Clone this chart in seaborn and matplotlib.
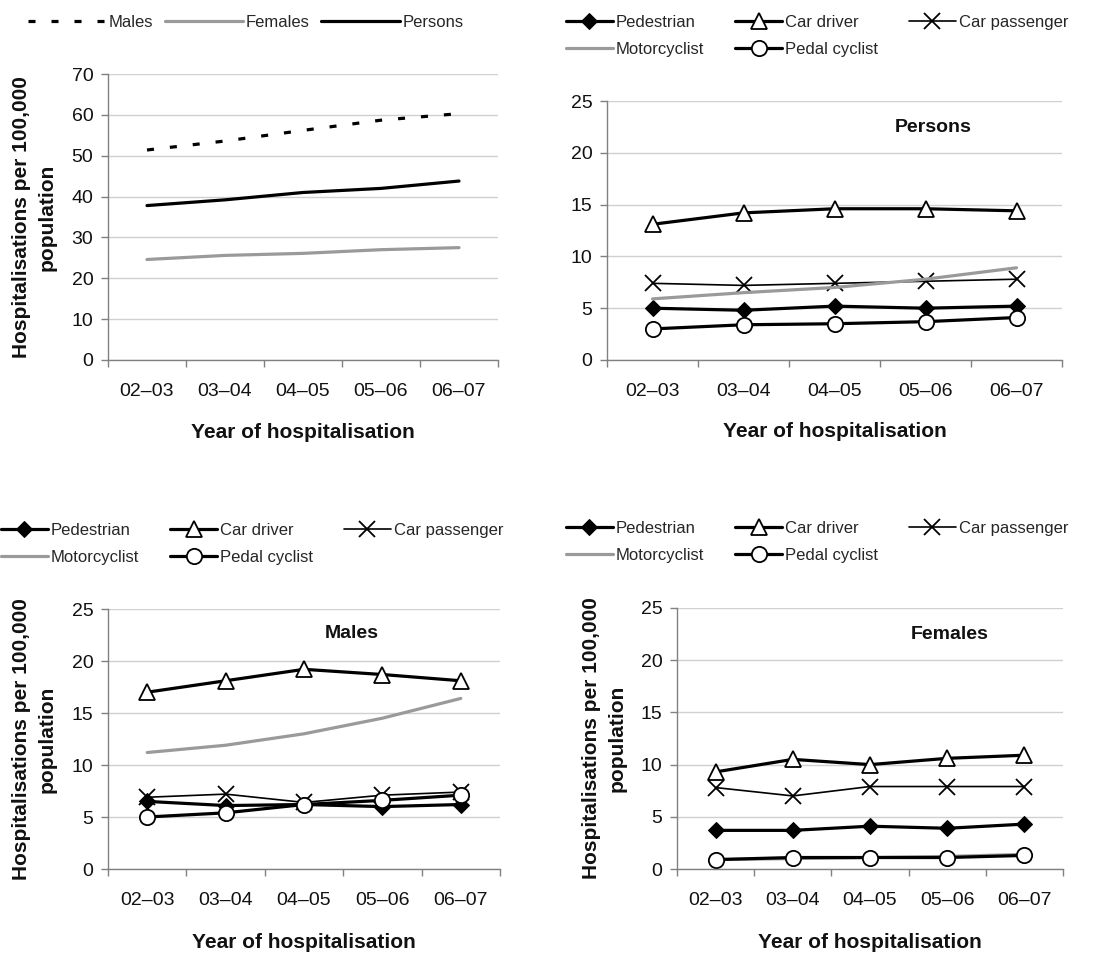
import numpy as np
import pandas as pd
import matplotlib
matplotlib.use("Agg")
import matplotlib.pyplot as plt
import seaborn as sns

# ---- data -------------------------------------------------------------
years = ["02\u201303", "03\u201304", "04\u201305", "05\u201306", "06\u201307"]

# Overall rates by sex
all_males = [51.4, 53.6, 56.2, 58.7, 60.3]
all_females = [24.6, 25.6, 26.1, 27.0, 27.5]
all_persons = [37.8, 39.2, 41.0, 42.0, 43.8]

# Road user type, persons
p_pedestrian = [5.0, 4.8, 5.2, 5.0, 5.2]
p_car_driver = [13.1, 14.2, 14.6, 14.6, 14.4]
p_car_passenger = [7.4, 7.2, 7.4, 7.6, 7.8]
p_motorcyclist = [5.9, 6.5, 7.0, 7.8, 8.9]
p_pedal_cyclist = [3.0, 3.4, 3.5, 3.7, 4.1]

# Road user type, males
m_pedestrian = [6.5, 6.1, 6.2, 6.0, 6.2]
m_car_driver = [17.0, 18.1, 19.2, 18.7, 18.1]
m_car_passenger = [6.9, 7.2, 6.4, 7.1, 7.4]
m_motorcyclist = [11.2, 11.9, 13.0, 14.5, 16.4]
m_pedal_cyclist = [5.0, 5.4, 6.2, 6.6, 7.1]

# Road user type, females
f_pedestrian = [3.7, 3.7, 4.1, 3.9, 4.3]
f_car_driver = [9.3, 10.5, 10.0, 10.6, 10.9]
f_car_passenger = [7.8, 7.0, 7.9, 7.9, 7.9]
f_motorcyclist = [0.9, 1.0, 1.1, 1.2, 1.4]
f_pedal_cyclist = [0.9, 1.1, 1.1, 1.1, 1.3]

# ---- styling ----------------------------------------------------------
sns.set_theme(style="white")
plt.rcParams["font.family"] = ["Liberation Sans", "DejaVu Sans"]

GREY = "#9a9a9a"
SPINE = "#808080"
GRID = "#d0d0d0"
INK = "#111111"

W, H = 1105, 956
fig = plt.figure(figsize=(W / 100, H / 100), dpi=100)


def add_axes(left, top, right, bottom):
    return fig.add_axes([left / W, 1 - bottom / H, (right - left) / W, (bottom - top) / H])


ax_tl = add_axes(108, 74, 498, 360)
ax_tr = add_axes(607, 101, 1062, 360)
ax_bl = add_axes(108, 609, 500, 869)
ax_br = add_axes(677, 608, 1063, 869)

xpos = np.arange(len(years))


def draw(ax, values, **kw):
    df = pd.DataFrame({"year": xpos, "rate": values})
    sns.lineplot(data=df, x="year", y="rate", ax=ax, legend=False, **kw)
    return ax.lines[-1]


def style_axes(ax, ymax, ystep):
    ax.set_xlim(-0.5, len(years) - 0.5)
    ax.set_ylim(0, ymax)
    ax.set_yticks(np.arange(0, ymax + 0.1, ystep))
    ax.set_xticks(np.arange(-0.5, len(years), 1.0))
    ax.set_xticklabels([])
    ax.set_xticks(xpos, minor=True)
    ax.set_xticklabels(years, minor=True)
    ax.tick_params(axis="x", which="major", direction="out", length=5, width=1,
                   color=SPINE, bottom=True)
    ax.tick_params(axis="x", which="minor", length=0, pad=16.5, labelsize=14,
                   labelcolor=INK)
    ax.tick_params(axis="y", direction="out", length=5, width=1, color=SPINE,
                   left=True, pad=5.5, labelsize=14, labelcolor=INK)
    ax.grid(axis="y", color=GRID, lw=1)
    ax.set_axisbelow(True)
    for s in ("top", "right"):
        ax.spines[s].set_visible(False)
    for s in ("left", "bottom"):
        ax.spines[s].set_color(SPINE)
        ax.spines[s].set_linewidth(1)
    ax.set_xlabel("Year of hospitalisation", fontsize=15, fontweight="bold",
                  color=INK)
    ax.set_ylabel("")


def ylabel(ax, xcoord):
    ax.set_ylabel("Hospitalisations per 100,000\npopulation", fontsize=15,
                  fontweight="bold", color=INK, linespacing=1.45)
    ax.yaxis.set_label_coords(xcoord, 0.5)


# ---- top left: all road users by sex ------------------------------------
males_line = draw(ax_tl, all_males, color="black", lw=2.3, label="Males")
males_line.set_dashes((2.2, 5.0))
draw(ax_tl, all_females, color=GREY, lw=2.3, label="Females")
draw(ax_tl, all_persons, color="black", lw=2.3, label="Persons")
style_axes(ax_tl, 70, 10)
ylabel(ax_tl, -0.131)
ax_tl.xaxis.set_label_coords(0.5, -0.22)
ax_tl.legend(loc="upper left", bbox_to_anchor=(28 / W, 1 - 15 / H),
             bbox_transform=fig.transFigure, ncol=3, frameon=False,
             fontsize=12, handlelength=4.7, handletextpad=0.15,
             columnspacing=0.7, borderpad=0, borderaxespad=0)


def road_users(ax, ped, drv, pas, moto, cyc):
    draw(ax, ped, color="black", lw=2.3, marker="D", markersize=8,
         markerfacecolor="black", markeredgecolor="black", label="Pedestrian")
    draw(ax, drv, color="black", lw=2.3, marker="^", markersize=12,
         markerfacecolor="white", markeredgecolor="black", markeredgewidth=1.3,
         label="Car driver")
    draw(ax, pas, color="black", lw=1.2, marker="x", markersize=11,
         markeredgecolor="black", markeredgewidth=1.3, label="Car passenger")
    draw(ax, moto, color=GREY, lw=2.3, label="Motorcyclist")
    draw(ax, cyc, color="black", lw=2.3, marker="o", markersize=11,
         markerfacecolor="white", markeredgecolor="black", markeredgewidth=1.3,
         label="Pedal cyclist")


def road_legend(ax, x, ytop):
    handles, labels = ax.get_legend_handles_labels()
    order = ["Pedestrian", "Motorcyclist", "Car driver", "Pedal cyclist", "Car passenger"]
    hmap = dict(zip(labels, handles))
    ax.legend([hmap[k] for k in order], order, loc="upper left",
              bbox_to_anchor=(x / W, 1 - ytop / H), bbox_transform=fig.transFigure,
              ncol=3, frameon=False, fontsize=12, handlelength=2.8,
              handletextpad=0.2, columnspacing=1.85, labelspacing=0.73,
              borderpad=0, borderaxespad=0)


def panel_title(ax, text, x, y):
    ax.text(x, y, text, transform=ax.transAxes, ha="center", va="center",
            fontsize=14, fontweight="bold", color=INK)


# ---- top right: persons --------------------------------------------------
road_users(ax_tr, p_pedestrian, p_car_driver, p_car_passenger, p_motorcyclist, p_pedal_cyclist)
style_axes(ax_tr, 25, 5)
ax_tr.xaxis.set_label_coords(0.5, -0.239)
panel_title(ax_tr, "Persons", 0.716, 0.896)
road_legend(ax_tr, 566, 15)

# ---- bottom left: males --------------------------------------------------
road_users(ax_bl, m_pedestrian, m_car_driver, m_car_passenger, m_motorcyclist, m_pedal_cyclist)
style_axes(ax_bl, 25, 5)
ylabel(ax_bl, -0.131)
ax_bl.xaxis.set_label_coords(0.5, -0.246)
panel_title(ax_bl, "Males", 0.622, 0.904)
road_legend(ax_bl, 1, 523)

# ---- bottom right: females -----------------------------------------------
road_users(ax_br, f_pedestrian, f_car_driver, f_car_passenger, f_motorcyclist, f_pedal_cyclist)
style_axes(ax_br, 25, 5)
ylabel(ax_br, -0.13)
ax_br.xaxis.set_label_coords(0.5, -0.245)
panel_title(ax_br, "Females", 0.707, 0.90)
road_legend(ax_br, 566, 521)

fig.savefig("out.png", dpi=100, facecolor="white")
